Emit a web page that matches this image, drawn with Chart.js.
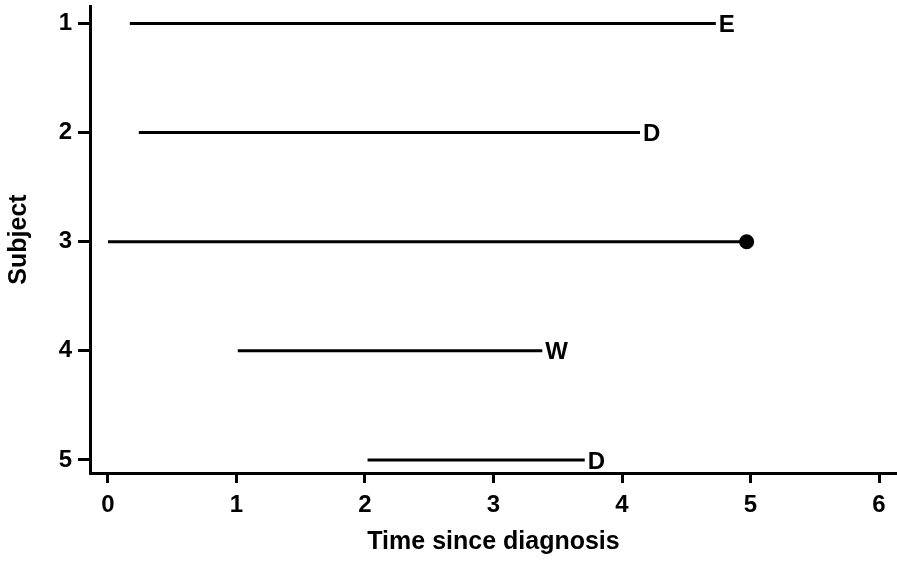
<!DOCTYPE html>
<html>
<head>
<meta charset="utf-8">
<script src="https://cdn.jsdelivr.net/npm/chart.js@4"></script>
<style>
  html, body { margin: 0; padding: 0; background: #fff; }
  #wrap { width: 897px; height: 561px; }
</style>
</head>
<body>
<div id="wrap"><canvas id="chart" width="897" height="561"></canvas></div>
<script>
// Follow-up data per subject
var subjects = [1, 2, 3, 4, 5];
var entryTimes = [0.17, 0.24, 0.0, 1.01, 2.02];
var exitTimes = [4.73, 4.14, 4.97, 3.38, 3.71];
// '' means the subject had the event (drawn as a dot)
var outcomes = ['E', 'D', '', 'W', 'D'];
var xTicks = [0, 1, 2, 3, 4, 5, 6];

var FONT = '"Liberation Sans", Arial, sans-serif';

var datasets = subjects.map(function(s, i) {
  var dot = outcomes[i] === '';
  return {
    label: 'Subject ' + s,
    data: [{ x: entryTimes[i], y: s }, { x: exitTimes[i], y: s }],
    showLine: true,
    borderColor: '#000',
    backgroundColor: '#000',
    borderWidth: 3,
    pointRadius: dot ? [0, 6] : 0,
    pointHoverRadius: dot ? [0, 6] : 0
  };
});

// Draw the outcome letters at the end of each line
var endLabels = {
  id: 'endLabels',
  afterDatasetsDraw: function(chart) {
    var ctx = chart.ctx;
    var xs = chart.scales.x, ys = chart.scales.y;
    ctx.save();
    ctx.fillStyle = '#000';
    ctx.font = 'bold 24px ' + FONT;
    ctx.textAlign = 'left';
    ctx.textBaseline = 'middle';
    subjects.forEach(function(s, i) {
      if (!outcomes[i]) return;
      ctx.fillText(outcomes[i], xs.getPixelForValue(exitTimes[i]) + 3, ys.getPixelForValue(s) + 2);
    });
    ctx.restore();
  }
};

var ctx = document.getElementById('chart').getContext('2d');
var chart = new Chart(ctx, {
  type: 'scatter',
  data: { datasets: datasets },
  options: {
    responsive: false,
    animation: false,
    layout: { autoPadding: false, padding: { top: 6, right: 0, left: 0, bottom: 0 } },
    plugins: { legend: { display: false }, tooltip: { enabled: false } },
    scales: {
      x: {
        type: 'linear',
        min: -0.14,
        max: 6.14,
        afterBuildTicks: function(scale) {
          scale.ticks = xTicks.map(function(v) { return { value: v }; });
        },
        afterFit: function(scale) {
          scale.height = 88;
          scale.paddingLeft = 0;
          scale.paddingRight = 0;
        },
        border: { display: true, color: '#000', width: 3 },
        grid: { display: true, drawOnChartArea: false, drawTicks: true, tickLength: 10, color: '#000', lineWidth: 3 },
        ticks: { color: '#000', padding: 8, font: { family: FONT, size: 24, weight: 'bold' }, maxRotation: 0 },
        title: { display: true, text: 'Time since diagnosis', color: '#000', padding: { top: 6 }, font: { family: FONT, size: 25, weight: 'bold' } }
      },
      y: {
        type: 'linear',
        reverse: true,
        min: 0.84,
        max: 5.12,
        afterBuildTicks: function(scale) {
          scale.ticks = subjects.map(function(v) { return { value: v }; });
        },
        afterFit: function(scale) {
          scale.width = 90;
          scale.paddingTop = 0;
          scale.paddingBottom = 0;
        },
        border: { display: true, color: '#000', width: 3 },
        grid: { display: true, drawOnChartArea: false, drawTicks: true, tickLength: 12, color: '#000', lineWidth: 3 },
        ticks: { color: '#000', padding: 6, font: { family: FONT, size: 24, weight: 'bold' } },
        title: { display: true, text: 'Subject', color: '#000', padding: { bottom: 0 }, font: { family: FONT, size: 25, weight: 'bold' } }
      }
    }
  },
  plugins: [endLabels]
});
</script>
</body>
</html>
